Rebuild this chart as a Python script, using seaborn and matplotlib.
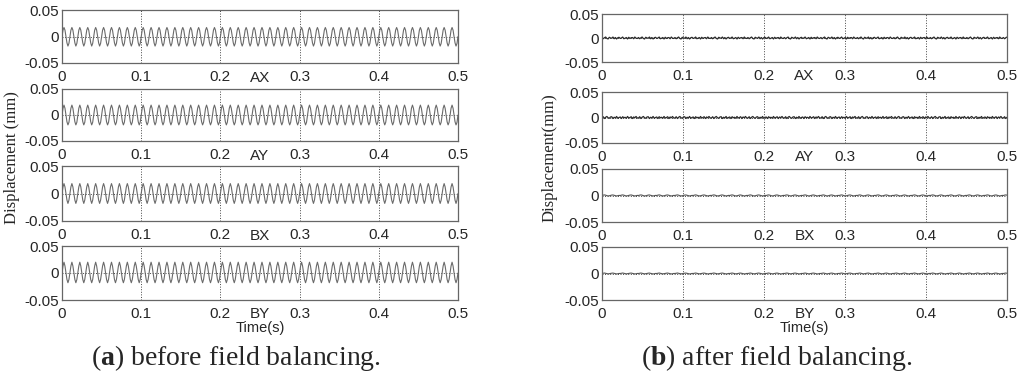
import numpy as np
import pandas as pd
import matplotlib
matplotlib.use("Agg")
import matplotlib.pyplot as plt
import seaborn as sns

# Kanal isimleri
CHANNELS = ["AX", "AY", "BX", "BY"]

# (a) dengeleme öncesi: resimden okunan tek periyot şekli (mm), ~100 Hz, 50 periyot
N_CYCLES_A = 50
AX_CYCLE = [0.0, 0.012, 0.017, 0.012, 0.0, -0.012, -0.018, -0.013]
AY_CYCLE = [0.0, 0.013, 0.019, 0.013, 0.0, -0.013, -0.019, -0.014]
BX_CYCLE = [0.0, 0.012, 0.018, 0.012, 0.0, -0.012, -0.018, -0.012]
BY_CYCLE = [0.0, 0.013, 0.020, 0.013, 0.0, -0.012, -0.018, -0.012]

# (b) dengeleme sonrası: küçük gürültü parçaları (mm)
N_SAMPLES_B = 334
AX_NOISE = [0.001, -0.0015, 0.0005, 0.002, -0.001, -0.002, 0.0015, 0.0, -0.0005, 0.002,
            -0.0015, 0.001, -0.002, 0.0005, 0.0015, -0.001, 0.0, 0.002, -0.0015, -0.0005,
            0.001, -0.002, 0.0015, -0.001, 0.0005, 0.001, -0.0015, 0.002, -0.0005, -0.001]
AY_NOISE = [-0.001, 0.0015, -0.002, 0.0005, 0.002, -0.0005, -0.0015, 0.001, 0.0015, -0.002,
            0.0005, -0.001, 0.002, -0.0015, 0.0, 0.001, -0.002, 0.0015, -0.0005, 0.0005,
            -0.0015, 0.002, -0.001, 0.0, 0.0015, -0.002, 0.001, -0.0005, 0.002, -0.001]
BX_NOISE = [0.0, 0.0007, 0.0011, 0.0006, -0.0003, -0.0008, -0.0005, 0.0001, 0.0008, 0.001,
            0.0004, -0.0004, -0.0009, -0.0004, 0.0002]
BY_NOISE = [0.0, 0.0005, 0.0009, 0.0004, -0.0002, -0.0007, -0.0004, 0.0001, 0.0006, 0.0008,
            0.0003, -0.0003, -0.0008, -0.0005, 0.0001]

T_END = 0.5
XTICKS = [0, 0.1, 0.2, 0.3, 0.4, 0.5]
XTICKLABELS = ["0", "0.1", "0.2", "0.3", "0.4", "0.5"]
YTICKS = [-0.05, 0, 0.05]
YTICKLABELS = ["-0.05", "0", "0.05"]


def seri_a(cycle):
    vals = np.append(np.tile(cycle, N_CYCLES_A), cycle[0])
    t = np.linspace(0, T_END, len(vals))
    return pd.DataFrame({"t": t, "y": vals})


def seri_b(snippet):
    reps = N_SAMPLES_B // len(snippet) + 1
    vals = np.tile(snippet, reps)[:N_SAMPLES_B]
    t = np.linspace(0, T_END, len(vals))
    return pd.DataFrame({"t": t, "y": vals})


sns.set_style("white")
plt.rcParams["font.family"] = ["Liberation Sans", "DejaVu Sans"]
plt.rcParams["mathtext.fontset"] = "custom"
plt.rcParams["mathtext.rm"] = "Liberation Serif"
plt.rcParams["mathtext.bf"] = "Liberation Serif:bold"

W, H = 1024, 381
fig = plt.figure(figsize=(W / 100, H / 100), dpi=100)

panels = [
    dict(left=62, right=458, rows=[(10, 63), (89, 141), (166, 221), (246, 300)],
         data=[seri_a(c) for c in (AX_CYCLE, AY_CYCLE, BX_CYCLE, BY_CYCLE)],
         colors=["#6a6a6a"] * 4, lws=[0.8] * 4, ylab="Displacement (mm)", ylab_x=12,
         cap_bold="a", cap_rest=") before field balancing.", cap_x=236),
    dict(left=602, right=1007, rows=[(14, 62), (92, 143), (169, 222), (247, 300)],
         data=[seri_b(c) for c in (AX_NOISE, AY_NOISE, BX_NOISE, BY_NOISE)],
         colors=["#2a2a2a", "#2a2a2a", "#555555", "#555555"], lws=[0.9, 0.9, 0.8, 0.8],
         ylab="Displacement(mm)", ylab_x=550,
         cap_bold="b", cap_rest=") after field balancing.", cap_x=777),
]

for p in panels:
    for i, (top, bot) in enumerate(p["rows"]):
        ax = fig.add_axes([p["left"] / W, 1 - bot / H, (p["right"] - p["left"]) / W, (bot - top) / H])
        sns.lineplot(data=p["data"][i], x="t", y="y", ax=ax, color=p["colors"][i],
                     linewidth=p["lws"][i], estimator=None, sort=False)
        ax.set_xlim(0, T_END)
        ax.set_ylim(-0.05, 0.05)
        ax.set_xticks(XTICKS)
        ax.set_xticklabels(XTICKLABELS, fontsize=11)
        ax.set_yticks(YTICKS)
        ax.set_yticklabels(YTICKLABELS, fontsize=11)
        ax.tick_params(axis="x", direction="in", length=3, width=0.6, color="#555555", pad=5)
        ax.tick_params(axis="y", direction="in", length=3, width=0.6, color="#555555", pad=2)
        ax.grid(True, linestyle=":", color="#444444", linewidth=0.7)
        ax.set_xlabel("")
        ax.set_ylabel("")
        for s in ax.spines.values():
            s.set_color("#666666")
            s.set_linewidth(0.9)
        h = bot - top
        ax.text(0.5, -14.5 / h, CHANNELS[i], transform=ax.transAxes, ha="center", va="center", fontsize=11)
        if i == 3:
            ax.text(0.5, -28 / h, "Time(s)", transform=ax.transAxes, ha="center", va="center", fontsize=10.5)

    fig.text(p["ylab_x"] / W, 1 - 158 / H, p["ylab"], rotation=90, ha="center", va="center",
             fontsize=12, family="Liberation Serif")
    # alt yazı: (a)/(b) kalın harfle
    fig.text(p["cap_x"] / W, 1 - 358 / H, "(" + r"$\mathbf{" + p["cap_bold"] + "}$" + p["cap_rest"],
             ha="center", va="center", fontsize=20, family="Liberation Serif")

fig.savefig("out.png", dpi=100)
